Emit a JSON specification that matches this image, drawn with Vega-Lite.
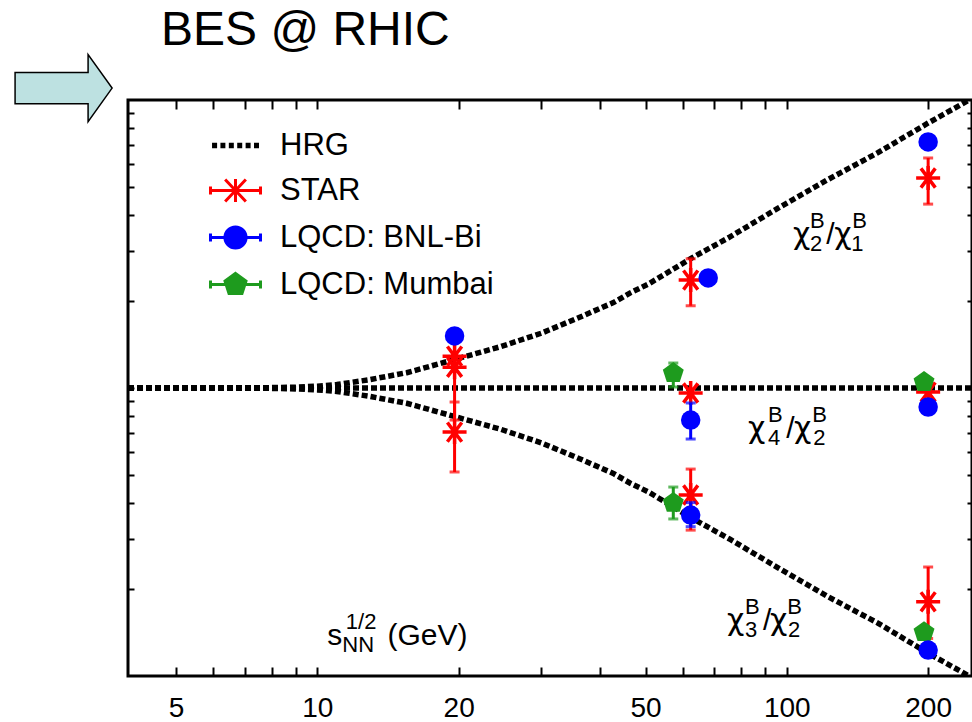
{
  "$schema": "https://vega.github.io/schema/vega-lite/v6.json",
  "width": 844,
  "height": 576,
  "autosize": {"type": "none"},
  "padding": {"left": 128, "top": 100, "right": 0, "bottom": 46},
  "title": {"text": "BES @ RHIC", "anchor": "start", "frame": "group", "dx": 33, "offset": -41, "fontSize": 48, "font": "Liberation Sans", "fontWeight": "normal", "color": "black", "baseline": "alphabetic"},
  "config": {
    "view": {"stroke": "black", "strokeWidth": 3},
    "font": "Liberation Sans",
    "axis": {"grid": false, "domain": false, "tickColor": "black", "tickWidth": 2, "title": null, "labelFont": "Liberation Sans", "labelColor": "black"}
  },
  "datasets": {
    "curves": [
      {"series": "HRG", "curve": "c21", "e": 3.95, "v": 1.0},
      {"series": "HRG", "curve": "c21", "e": 6, "v": 1.0},
      {"series": "HRG", "curve": "c21", "e": 8, "v": 1.003},
      {"series": "HRG", "curve": "c21", "e": 9, "v": 1.007},
      {"series": "HRG", "curve": "c21", "e": 10, "v": 1.015},
      {"series": "HRG", "curve": "c21", "e": 11, "v": 1.028},
      {"series": "HRG", "curve": "c21", "e": 12.8, "v": 1.066},
      {"series": "HRG", "curve": "c21", "e": 15.5, "v": 1.13},
      {"series": "HRG", "curve": "c21", "e": 19.4, "v": 1.25},
      {"series": "HRG", "curve": "c21", "e": 24.5, "v": 1.39},
      {"series": "HRG", "curve": "c21", "e": 30, "v": 1.55},
      {"series": "HRG", "curve": "c21", "e": 36.2, "v": 1.76},
      {"series": "HRG", "curve": "c21", "e": 42.7, "v": 1.98},
      {"series": "HRG", "curve": "c21", "e": 46.4, "v": 2.14},
      {"series": "HRG", "curve": "c21", "e": 50.8, "v": 2.3},
      {"series": "HRG", "curve": "c21", "e": 62.8, "v": 2.83},
      {"series": "HRG", "curve": "c21", "e": 75.5, "v": 3.34},
      {"series": "HRG", "curve": "c21", "e": 96, "v": 4.22},
      {"series": "HRG", "curve": "c21", "e": 122, "v": 5.28},
      {"series": "HRG", "curve": "c21", "e": 156, "v": 6.55},
      {"series": "HRG", "curve": "c21", "e": 200, "v": 8.32},
      {"series": "HRG", "curve": "c21", "e": 250, "v": 10.2},
      {"series": "HRG", "curve": "c42", "e": 3.95, "v": 1.0},
      {"series": "HRG", "curve": "c42", "e": 250, "v": 1.0},
      {"series": "HRG", "curve": "c32", "e": 3.95, "v": 1.0},
      {"series": "HRG", "curve": "c32", "e": 6, "v": 1.0},
      {"series": "HRG", "curve": "c32", "e": 8, "v": 0.997},
      {"series": "HRG", "curve": "c32", "e": 9, "v": 0.993},
      {"series": "HRG", "curve": "c32", "e": 10, "v": 0.985},
      {"series": "HRG", "curve": "c32", "e": 11, "v": 0.973},
      {"series": "HRG", "curve": "c32", "e": 12.8, "v": 0.938},
      {"series": "HRG", "curve": "c32", "e": 15.5, "v": 0.885},
      {"series": "HRG", "curve": "c32", "e": 19.4, "v": 0.8},
      {"series": "HRG", "curve": "c32", "e": 24.5, "v": 0.72},
      {"series": "HRG", "curve": "c32", "e": 30, "v": 0.645},
      {"series": "HRG", "curve": "c32", "e": 36.2, "v": 0.568},
      {"series": "HRG", "curve": "c32", "e": 42.7, "v": 0.505},
      {"series": "HRG", "curve": "c32", "e": 46.4, "v": 0.467},
      {"series": "HRG", "curve": "c32", "e": 50.8, "v": 0.435},
      {"series": "HRG", "curve": "c32", "e": 62.8, "v": 0.353},
      {"series": "HRG", "curve": "c32", "e": 75.5, "v": 0.299},
      {"series": "HRG", "curve": "c32", "e": 96, "v": 0.237},
      {"series": "HRG", "curve": "c32", "e": 122, "v": 0.189},
      {"series": "HRG", "curve": "c32", "e": 156, "v": 0.153},
      {"series": "HRG", "curve": "c32", "e": 200, "v": 0.12},
      {"series": "HRG", "curve": "c32", "e": 250, "v": 0.098}
    ],
    "points": [
      {"src": "STAR", "e": 19.6, "v": 1.29},
      {"src": "STAR", "e": 19.6, "v": 1.18, "lo": 0.774, "hi": 1.45},
      {"src": "STAR", "e": 19.6, "v": 0.703, "lo": 0.511, "hi": 0.894},
      {"src": "STAR", "e": 62.4, "v": 2.37, "lo": 1.93, "hi": 2.81},
      {"src": "STAR", "e": 62.4, "v": 0.961},
      {"src": "STAR", "e": 62.4, "v": 0.425, "lo": 0.321, "hi": 0.523},
      {"src": "STAR", "e": 200, "v": 5.36, "lo": 4.35, "hi": 6.29},
      {"src": "STAR", "e": 200, "v": 0.968},
      {"src": "STAR", "e": 200, "v": 0.181, "lo": 0.135, "hi": 0.239},
      {"src": "BNL", "e": 19.6, "v": 1.516},
      {"src": "BNL", "e": 68, "v": 2.41},
      {"src": "BNL", "e": 62.4, "v": 0.774, "lo": 0.665, "hi": 0.887},
      {"src": "BNL", "e": 62.4, "v": 0.362, "lo": 0.33, "hi": 0.4},
      {"src": "BNL", "e": 200, "v": 7.15},
      {"src": "BNL", "e": 200, "v": 0.859},
      {"src": "BNL", "e": 200, "v": 0.123},
      {"src": "Mumbai", "e": 57.3, "v": 1.127, "lo": 1.008, "hi": 1.221},
      {"src": "Mumbai", "e": 57.3, "v": 0.399, "lo": 0.351, "hi": 0.453},
      {"src": "Mumbai", "e": 196, "v": 1.049},
      {"src": "Mumbai", "e": 196, "v": 0.142}
    ],
    "labels": [
      {"part": "chi", "t": "χ", "x": 103.1, "y": 3.162},
      {"part": "sub", "t": "2", "x": 112.1, "y": 3.162},
      {"part": "sup", "t": "B", "x": 112.1, "y": 3.162},
      {"part": "main", "t": "/", "x": 121.3, "y": 3.162},
      {"part": "chi", "t": "χ", "x": 126.2, "y": 3.162},
      {"part": "sub", "t": "1", "x": 137.1, "y": 3.162},
      {"part": "sup", "t": "B", "x": 137.8, "y": 3.162},
      {"part": "chi", "t": "χ", "x": 82.7, "y": 0.668},
      {"part": "sub", "t": "4", "x": 91.2, "y": 0.668},
      {"part": "sup", "t": "B", "x": 91.2, "y": 0.668},
      {"part": "main", "t": "/", "x": 99.7, "y": 0.668},
      {"part": "chi", "t": "χ", "x": 103.6, "y": 0.668},
      {"part": "sub", "t": "2", "x": 113.8, "y": 0.668},
      {"part": "sup", "t": "B", "x": 113.3, "y": 0.668},
      {"part": "chi", "t": "χ", "x": 74.6, "y": 0.1439},
      {"part": "sub", "t": "3", "x": 81.5, "y": 0.1439},
      {"part": "sup", "t": "B", "x": 81.5, "y": 0.1439},
      {"part": "main", "t": "/", "x": 89.0, "y": 0.1439},
      {"part": "chi", "t": "χ", "x": 92.1, "y": 0.1439},
      {"part": "sub", "t": "2", "x": 100.6, "y": 0.1439},
      {"part": "sup", "t": "B", "x": 100.2, "y": 0.1439},
      {"part": "main", "t": "s", "x": 10.5, "y": 0.1281},
      {"part": "sub", "t": "NN", "x": 11.3, "y": 0.1281},
      {"part": "sup", "t": "1/2", "x": 11.5, "y": 0.1281},
      {"part": "main", "t": "(GeV)", "x": 14.1, "y": 0.1281}
    ],
    "arrow": [{"x": 2.88, "y": 11.0}]
  },
  "resolve": {"axis": {"x": "independent", "y": "independent"}},
  "layer": [
    {
      "data": {"name": "curves"},
      "mark": {"type": "line", "strokeWidth": 5.5, "strokeDash": [6, 3], "clip": true},
      "encoding": {
        "x": {"field": "e", "type": "quantitative", "scale": {"type": "log", "domain": [3.95, 248], "nice": false},
          "axis": {"orient": "bottom", "values": [5, 6, 7, 8, 9, 10, 20, 30, 40, 50, 60, 70, 80, 90, 100, 200], "format": "d", "labelExpr": "indexof([5, 10, 20, 50, 100, 200], datum.value) >= 0 ? datum.label : ''", "tickSize": -9, "labelPadding": 27, "labelFontSize": 28, "labelFlush": false, "labelOverlap": false}},
        "y": {"field": "v", "type": "quantitative", "scale": {"type": "log", "domain": [0.1, 10], "nice": false},
          "axis": {"orient": "left", "values": [0.2, 0.3, 0.4, 0.5, 0.6, 0.7, 0.8, 0.9, 1, 2, 3, 4, 5, 6, 7, 8, 9], "labels": false, "tickSize": -6}},
        "detail": {"field": "curve"},
        "color": {"field": "series", "type": "nominal",
          "scale": {"domain": ["HRG", "STAR", "LQCD: BNL-Bi", "LQCD: Mumbai"], "range": ["black", "red", "blue", "#1e9b1e"]},
          "legend": {"orient": "none", "legendX": 92, "legendY": 30, "title": null, "padding": 0, "symbolSize": 2116, "symbolStrokeWidth": 3, "labelFontSize": 31, "labelFont": "Liberation Sans", "labelColor": "black", "labelOffset": 29, "labelLimit": 600, "rowPadding": 12, "symbolOpacity": 1,
            "encode": {"symbols": {"update": {
              "shape": {"signal": "datum.value === 'HRG' ? 'M-1.02 -0.12H-0.8V0.12H-1.02ZM-0.655 -0.12H-0.44V0.12H-0.655ZM-0.29 -0.12H-0.073V0.12H-0.29ZM0.075 -0.12H0.292V0.12H0.075ZM0.44 -0.12H0.657V0.12H0.44ZM0.805 -0.12H1.022V0.12H0.805Z' : datum.value === 'STAR' ? 'M-1.087 0H1.087M-1.087 -0.17V0.17M1.087 -0.17V0.17M0 -0.5V0.5M-0.45 -0.48L0.45 0.48M-0.45 0.48L0.45 -0.48' : datum.value === 'LQCD: BNL-Bi' ? 'M-1.087 0H1.087M-1.087 -0.17V0.17M1.087 -0.17V0.17M-0.46 0A0.46 0.46 0 1 0 0.46 0A0.46 0.46 0 1 0 -0.46 0Z' : 'M-1.087 0H1.087M-1.087 -0.17V0.17M1.087 -0.17V0.17M0 -0.48L0.456 -0.148L0.282 0.388L-0.282 0.388L-0.456 -0.148Z'"},
              "fill": {"signal": "datum.value === 'HRG' ? 'black' : datum.value === 'STAR' ? 'transparent' : datum.value === 'LQCD: BNL-Bi' ? 'blue' : '#1e9b1e'"},
              "stroke": {"signal": "datum.value === 'HRG' ? 'black' : datum.value === 'STAR' ? 'red' : datum.value === 'LQCD: BNL-Bi' ? 'blue' : '#1e9b1e'"},
              "strokeWidth": {"signal": "datum.value === 'HRG' ? 0 : 3"},
              "strokeDash": {"value": []},
              "opacity": {"value": 1}
            }}}}}
      }
    },
    {
      "data": {"name": "points"},
      "transform": [{"filter": "datum.src === 'STAR' && isValid(datum.lo)"}],
      "mark": {"type": "errorbar", "color": "red", "thickness": 3, "ticks": {"size": 10, "thickness": 3, "color": "red"}},
      "encoding": {
        "x": {"field": "e", "type": "quantitative", "scale": {"type": "log", "domain": [3.95, 248], "nice": false}, "axis": null},
        "y": {"field": "lo", "type": "quantitative", "scale": {"type": "log", "domain": [0.1, 10], "nice": false}, "axis": null},
        "y2": {"field": "hi"}
      }
    },
    {
      "data": {"name": "points"},
      "transform": [{"filter": "datum.src === 'STAR'"}],
      "mark": {"type": "point", "shape": "M-1 0L1 0M0 -1L0 1M-0.6 -0.8L0.6 0.8M-0.6 0.8L0.6 -0.8", "size": 576, "filled": false, "color": "red", "strokeWidth": 3.5, "opacity": 1},
      "encoding": {
        "x": {"field": "e", "type": "quantitative", "scale": {"type": "log", "domain": [3.95, 248], "nice": false},
          "axis": {"orient": "top", "values": [5, 6, 7, 8, 9, 10, 20, 30, 40, 50, 60, 70, 80, 90, 100, 200], "labels": false, "tickSize": -9}},
        "y": {"field": "v", "type": "quantitative", "scale": {"type": "log", "domain": [0.1, 10], "nice": false},
          "axis": {"orient": "right", "values": [0.2, 0.3, 0.4, 0.5, 0.6, 0.7, 0.8, 0.9, 1, 2, 3, 4, 5, 6, 7, 8, 9], "labels": false, "tickSize": -5}}
      }
    },
    {
      "data": {"name": "points"},
      "transform": [{"filter": "datum.src === 'Mumbai' && isValid(datum.lo)"}],
      "mark": {"type": "errorbar", "color": "#1e9b1e", "thickness": 3, "ticks": {"size": 10, "thickness": 3, "color": "#1e9b1e"}},
      "encoding": {
        "x": {"field": "e", "type": "quantitative", "scale": {"type": "log", "domain": [3.95, 248], "nice": false}, "axis": null},
        "y": {"field": "lo", "type": "quantitative", "scale": {"type": "log", "domain": [0.1, 10], "nice": false}, "axis": null},
        "y2": {"field": "hi"}
      }
    },
    {
      "data": {"name": "points"},
      "transform": [{"filter": "datum.src === 'Mumbai'"}],
      "mark": {"type": "point", "shape": "M0 -1L0.951 -0.309L0.588 0.809L-0.588 0.809L-0.951 -0.309Z", "size": 484, "filled": true, "color": "#1e9b1e", "opacity": 1},
      "encoding": {
        "x": {"field": "e", "type": "quantitative", "scale": {"type": "log", "domain": [3.95, 248], "nice": false}, "axis": null},
        "y": {"field": "v", "type": "quantitative", "scale": {"type": "log", "domain": [0.1, 10], "nice": false}, "axis": null}
      }
    },
    {
      "data": {"name": "points"},
      "transform": [{"filter": "datum.src === 'BNL' && isValid(datum.lo)"}],
      "mark": {"type": "errorbar", "color": "blue", "thickness": 3, "ticks": {"size": 10, "thickness": 3, "color": "blue"}},
      "encoding": {
        "x": {"field": "e", "type": "quantitative", "scale": {"type": "log", "domain": [3.95, 248], "nice": false}, "axis": null},
        "y": {"field": "lo", "type": "quantitative", "scale": {"type": "log", "domain": [0.1, 10], "nice": false}, "axis": null},
        "y2": {"field": "hi"}
      }
    },
    {
      "data": {"name": "points"},
      "transform": [{"filter": "datum.src === 'BNL'"}],
      "mark": {"type": "point", "shape": "circle", "size": 380, "filled": true, "color": "blue", "opacity": 1},
      "encoding": {
        "x": {"field": "e", "type": "quantitative", "scale": {"type": "log", "domain": [3.95, 248], "nice": false}, "axis": null},
        "y": {"field": "v", "type": "quantitative", "scale": {"type": "log", "domain": [0.1, 10], "nice": false}, "axis": null}
      }
    },
    {
      "data": {"name": "labels"},
      "transform": [{"filter": "datum.part === 'main'"}],
      "mark": {"type": "text", "align": "left", "baseline": "alphabetic", "fontSize": 30, "font": "Liberation Sans", "color": "black"},
      "encoding": {
        "x": {"field": "x", "type": "quantitative", "scale": {"type": "log", "domain": [3.95, 248], "nice": false}, "axis": null},
        "y": {"field": "y", "type": "quantitative", "scale": {"type": "log", "domain": [0.1, 10], "nice": false}, "axis": null},
        "text": {"field": "t"}
      }
    },
    {
      "data": {"name": "labels"},
      "transform": [{"filter": "datum.part === 'chi'"}],
      "mark": {"type": "text", "align": "left", "baseline": "alphabetic", "fontSize": 30, "font": "DejaVu Sans", "color": "black"},
      "encoding": {
        "x": {"field": "x", "type": "quantitative", "scale": {"type": "log", "domain": [3.95, 248], "nice": false}, "axis": null},
        "y": {"field": "y", "type": "quantitative", "scale": {"type": "log", "domain": [0.1, 10], "nice": false}, "axis": null},
        "text": {"field": "t"}
      }
    },
    {
      "data": {"name": "labels"},
      "transform": [{"filter": "datum.part === 'sup'"}],
      "mark": {"type": "text", "align": "left", "baseline": "alphabetic", "fontSize": 22, "dy": -16, "font": "Liberation Sans", "color": "black"},
      "encoding": {
        "x": {"field": "x", "type": "quantitative", "scale": {"type": "log", "domain": [3.95, 248], "nice": false}, "axis": null},
        "y": {"field": "y", "type": "quantitative", "scale": {"type": "log", "domain": [0.1, 10], "nice": false}, "axis": null},
        "text": {"field": "t"}
      }
    },
    {
      "data": {"name": "labels"},
      "transform": [{"filter": "datum.part === 'sub'"}],
      "mark": {"type": "text", "align": "left", "baseline": "alphabetic", "fontSize": 22, "dy": 7, "font": "Liberation Sans", "color": "black"},
      "encoding": {
        "x": {"field": "x", "type": "quantitative", "scale": {"type": "log", "domain": [3.95, 248], "nice": false}, "axis": null},
        "y": {"field": "y", "type": "quantitative", "scale": {"type": "log", "domain": [0.1, 10], "nice": false}, "axis": null},
        "text": {"field": "t"}
      }
    },
    {
      "data": {"name": "arrow"},
      "mark": {"type": "point", "shape": "M-0.99 -0.32L0.5 -0.32L0.5 -0.684L0.99 0L0.5 0.684L0.5 0.32L-0.99 0.32Z", "size": 9604, "filled": true, "fill": "#bde1e1", "stroke": "black", "strokeWidth": 1.5, "opacity": 1},
      "encoding": {
        "x": {"field": "x", "type": "quantitative", "scale": {"type": "log", "domain": [3.95, 248], "nice": false}, "axis": null},
        "y": {"field": "y", "type": "quantitative", "scale": {"type": "log", "domain": [0.1, 10], "nice": false}, "axis": null}
      }
    }
  ]
}
